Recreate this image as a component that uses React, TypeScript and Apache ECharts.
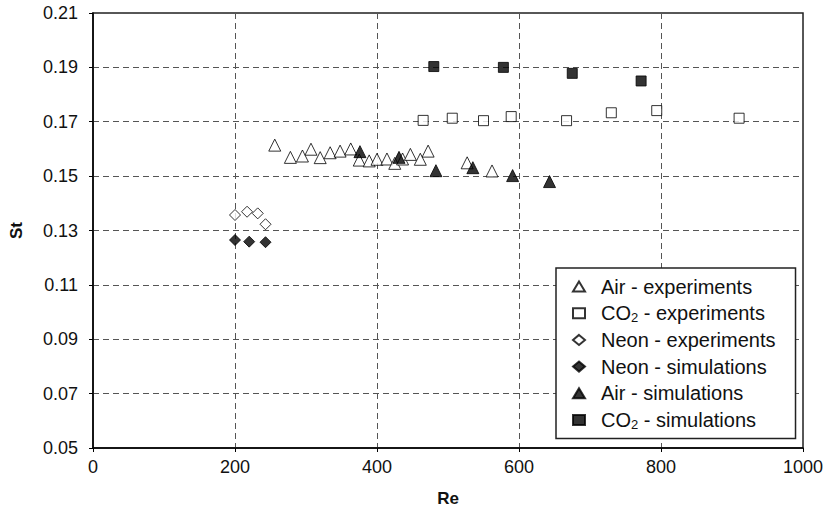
import React, { useEffect, useRef } from "react";
import * as echarts from "echarts";

// Reynolds number / Stanton number pairs for each gas
const airExpRe = [256, 278, 295, 307, 320, 334, 348, 363, 375, 389, 400, 414, 425, 436, 447, 461, 472, 527, 562];
const airExpSt = [0.1614, 0.1569, 0.1574, 0.1599, 0.1568, 0.1586, 0.1592, 0.16, 0.1559, 0.1556, 0.1562, 0.1563, 0.1547, 0.1563, 0.158, 0.1562, 0.1592, 0.1549, 0.1519];

const co2ExpRe = [465, 506, 550, 589, 667, 730, 794, 910];
const co2ExpSt = [0.1705, 0.1713, 0.1704, 0.1719, 0.1704, 0.1733, 0.1741, 0.1713];

const neonExpRe = [200, 217, 232, 243];
const neonExpSt = [0.1357, 0.1369, 0.1363, 0.1323];

const neonSimRe = [200, 220, 243];
const neonSimSt = [0.1265, 0.1259, 0.1257];

const airSimRe = [376, 431, 483, 535, 591, 643];
const airSimSt = [0.159, 0.1569, 0.152, 0.1531, 0.1502, 0.148];

const co2SimRe = [480, 578, 675, 772];
const co2SimSt = [0.1903, 0.19, 0.1878, 0.185];

const seriesNames = [
  "Air - experiments",
  "CO2 - experiments",
  "Neon - experiments",
  "Neon - simulations",
  "Air - simulations",
  "CO2 - simulations",
];

const xTicks = { min: 0, max: 1000, step: 200 };
const yTicks = { min: 0.05, max: 0.21, step: 0.02 };

const FONT = "'Liberation Sans', Arial, sans-serif";

const pairs = (xs: number[], ys: number[]) => xs.map((x, i) => [x, ys[i]]);

const openStyle = { color: "#ffffff", borderColor: "#000000", borderWidth: 1 };
const fillStyle = { color: "#000000", borderColor: "#000000", borderWidth: 1 };

export default function App() {
  const ref = useRef<HTMLDivElement>(null);

  useEffect(() => {
    document.body.style.margin = "0";
    const chart = echarts.init(ref.current!, null, { renderer: "svg" });

    const mk = (
      name: string,
      xs: number[],
      ys: number[],
      symbol: string,
      size: number,
      style: object
    ) => ({
      name,
      type: "scatter",
      data: pairs(xs, ys),
      symbol,
      symbolSize: size,
      itemStyle: style,
      z: 3,
    });

    chart.setOption({
      animation: false,
      backgroundColor: "#ffffff",
      grid: {
        left: 92,
        right: 26,
        top: 13,
        bottom: 64,
        show: true,
        borderColor: "#222",
        borderWidth: 1.5,
        backgroundColor: "transparent",
      },
      xAxis: {
        type: "value",
        min: xTicks.min,
        max: xTicks.max,
        interval: xTicks.step,
        name: "Re",
        nameLocation: "middle",
        nameGap: 42,
        nameTextStyle: { fontFamily: FONT, fontSize: 17, fontWeight: "bold", color: "#111" },
        axisLine: { lineStyle: { color: "#000", width: 1.5 } },
        axisTick: { show: true, inside: false, length: 4, lineStyle: { color: "#000" } },
        axisLabel: {
          fontFamily: FONT,
          fontSize: 18,
          color: "#111",
          margin: 10,
          formatter: (v: number) => String(v),
        },
        splitLine: { show: true, lineStyle: { color: "#555", type: [6, 4], width: 1 } },
      },
      yAxis: {
        type: "value",
        min: yTicks.min,
        max: yTicks.max,
        interval: yTicks.step,
        name: "St",
        nameLocation: "middle",
        nameGap: 68,
        nameRotate: 90,
        nameTextStyle: { fontFamily: FONT, fontSize: 17, fontWeight: "bold", color: "#111" },
        axisLine: { show: true, lineStyle: { color: "#000", width: 1.5 } },
        axisTick: { show: true, inside: false, length: 4, lineStyle: { color: "#000" } },
        axisLabel: {
          fontFamily: FONT,
          fontSize: 18,
          color: "#111",
          margin: 15,
          formatter: (v: number) => v.toFixed(2),
        },
        splitLine: { show: true, lineStyle: { color: "#555", type: [6, 4], width: 1 } },
      },
      legend: {
        orient: "vertical",
        left: 556,
        top: 268,
        data: seriesNames,
        itemWidth: 12,
        itemHeight: 10,
        itemGap: 5.7,
        padding: [8, 20, 8, 16],
        backgroundColor: "#ffffff",
        borderColor: "#222",
        borderWidth: 1.5,
        formatter: (name: string) => "{g|}" + name.replace("CO2", "CO{sub|2}"),
        textStyle: {
          fontFamily: FONT,
          fontSize: 20,
          color: "#111",
          lineHeight: 21,
          rich: {
            g: { width: 11 },
            sub: {
              fontFamily: FONT,
              fontSize: 13,
              color: "#111",
              lineHeight: 13,
              verticalAlign: "bottom",
              padding: [8, 0, 0, 0],
            },
          },
        },
      },
      series: [
        mk(seriesNames[0], airExpRe, airExpSt, "triangle", 12, openStyle),
        mk(seriesNames[1], co2ExpRe, co2ExpSt, "rect", 10, openStyle),
        mk(seriesNames[2], neonExpRe, neonExpSt, "diamond", 11, openStyle),
        mk(seriesNames[3], neonSimRe, neonSimSt, "diamond", 11, fillStyle),
        mk(seriesNames[4], airSimRe, airSimSt, "triangle", 12, fillStyle),
        mk(seriesNames[5], co2SimRe, co2SimSt, "rect", 10, fillStyle),
      ],
    });

    return () => chart.dispose();
  }, []);

  return (
    <div
      ref={ref}
      style={{ position: "absolute", left: 0, top: 0, width: 829, height: 512 }}
    />
  );
}
